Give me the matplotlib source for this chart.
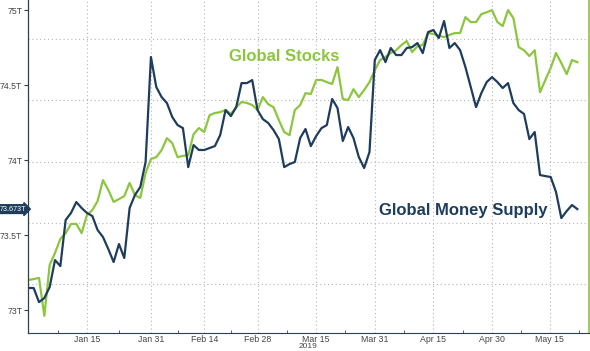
import numpy as np
import matplotlib.pyplot as plt
import matplotlib.transforms as mtransforms
from matplotlib import font_manager

plt.rcParams['font.family'] = ['Liberation Sans', 'DejaVu Sans']
names = {f.name for f in font_manager.fontManager.ttflist}
narrow = 'Liberation Sans Narrow' if 'Liberation Sans Narrow' in names else 'Liberation Sans'

# global money supply, $T (left axis), one value per business day from Dec 31 2018
money_supply = [
    73.147, 73.147, 73.053, 73.080, 73.153, 73.333, 73.293, 73.600, 73.647, 73.720,
    73.680, 73.647, 73.627, 73.533, 73.487, 73.407, 73.320, 73.440, 73.347, 73.680,
    73.767, 73.820, 73.987, 74.687, 74.487, 74.420, 74.380, 74.287, 74.233, 74.213,
    73.953, 74.100, 74.067, 74.067, 74.080, 74.093, 74.167, 74.333, 74.293, 74.353,
    74.513, 74.513, 74.533, 74.333, 74.273, 74.247, 74.200, 74.140, 73.953, 73.973,
    73.987, 74.147, 74.207, 74.093, 74.160, 74.213, 74.233, 74.407, 74.347, 74.127,
    74.220, 74.147, 74.020, 73.947, 74.053, 74.667, 74.733, 74.653, 74.747, 74.700,
    74.700, 74.747, 74.753, 74.780, 74.713, 74.853, 74.867, 74.813, 74.927, 74.747,
    74.780, 74.733, 74.620, 74.487, 74.353, 74.447, 74.520, 74.553, 74.520, 74.480,
    74.513, 74.380, 74.333, 74.307, 74.140, 74.187, 73.900, 73.893, 73.887, 73.787,
    73.613, 73.660, 73.700, 73.673,
]

# global stocks (hidden right axis)
global_stocks = [
    76.14, 76.17, 76.21, 74.97, 76.63, 77.02, 77.48, 77.67, 77.97, 77.97,
    77.67, 78.26, 78.42, 78.72, 79.40, 79.08, 78.69, 78.78, 78.88, 79.31,
    78.91, 78.82, 79.63, 80.09, 80.15, 80.38, 80.77, 80.61, 80.15, 80.19,
    80.22, 80.90, 81.10, 80.97, 81.52, 81.59, 81.62, 81.69, 81.56, 81.78,
    81.95, 81.92, 81.85, 81.69, 82.11, 81.88, 81.78, 81.36, 80.97, 80.87,
    81.69, 81.85, 82.24, 82.21, 82.67, 82.67, 82.60, 82.54, 83.09, 82.05,
    82.01, 82.37, 82.11, 82.34, 82.60, 82.99, 83.32, 83.42, 83.55, 83.64,
    83.81, 83.94, 83.58, 83.77, 83.81, 84.20, 84.17, 84.11, 84.07, 84.14,
    84.20, 84.20, 84.72, 84.56, 84.56, 84.82, 84.88, 84.95, 84.56, 84.43,
    84.95, 84.69, 83.74, 83.64, 83.45, 83.64, 82.27, 82.67, 83.06, 83.55,
    83.22, 82.86, 83.32, 83.25,
]

tick_labels = ['Jan 15', 'Jan 31', 'Feb 14', 'Feb 28', 'Mar 15', 'Mar 31', 'Apr 15', 'Apr 30', 'May 15']
tick_days = [11, 23, 33, 43, 54, 65, 76, 87, 97.8]
left_ticks = [73, 73.5, 74, 74.5, 75]
left_labels = ['73T', '73.5T', '74T', '74.5T', '75T']
right_grid = [76, 78, 80, 82, 84]

navy = '#1e3d5c'
green = '#8cc63f'
grid_kw = dict(color='#b4b4b4', linestyle=(0, (1, 2.5)), linewidth=0.8)

fig = plt.figure(figsize=(5.9, 3.51), dpi=100)
ax = fig.add_axes([0.0475, 0.0513, 0.95, 0.9487])
ax2 = ax.twinx()
ax.set_zorder(ax2.get_zorder() + 1)
ax.patch.set_visible(False)

x = np.arange(len(money_supply))
ax2.plot(x, global_stocks, color=green, lw=1.6)
ax.plot(x, money_supply, color=navy, lw=1.6)

ax.set_xlim(-0.06, 105.1)
ax.set_ylim(72.847, 75.067)
ax2.set_ylim(74.41, 85.28)

# x axis
ax.set_xticks(tick_days, tick_labels)
mids = [(a + b) / 2 for a, b in zip(tick_days[:-1], tick_days[1:])]
ax.set_xticks([tick_days[0] - 5.5] + mids + [tick_days[-1] + 5.5], minor=True)
ax.tick_params(axis='x', which='major', length=0, pad=1.5, labelsize=6.3, labelcolor='#444444')
ax.tick_params(axis='x', which='minor', direction='in', length=2, color='#444444')
ax.grid(axis='x', **grid_kw)
ax.set_xlabel('2019', fontsize=6, color='#444444', family=narrow)
ax.xaxis.set_label_coords(0.5, -0.03)

# left axis
ax.set_yticks(left_ticks, left_labels)
ax.tick_params(axis='y', direction='out', length=3, width=0.8, color='#2f3f50',
               labelsize=6.3, labelcolor='#444444', pad=1)
for lab in ax.get_xticklabels() + ax.get_yticklabels():
    lab.set_family(narrow)

# right axis only gives the horizontal grid
ax2.set_yticks(right_grid)
ax2.tick_params(axis='y', length=0, labelright=False)
ax2.grid(axis='y', **grid_kw)

for s in ['top', 'right']:
    ax.spines[s].set_visible(False)
for s in ['top', 'left', 'bottom']:
    ax2.spines[s].set_visible(False)
ax2.spines['right'].set_color(green)
ax2.spines['right'].set_linewidth(1.2)
ax.spines['left'].set_color('#2f3f50')
ax.spines['left'].set_linewidth(0.9)
ax.spines['left'].set_linestyle((0, (1.5, 1)))
ax.spines['bottom'].set_color('#2f3f50')
ax.spines['bottom'].set_linewidth(0.8)

# last value tag
trans = mtransforms.blended_transform_factory(ax.transAxes, ax.transData)
ax.text(-0.004, money_supply[-1], f'{money_supply[-1]:.3f}T', transform=trans,
        ha='right', va='center', fontsize=5.2, color='white', clip_on=False, family=narrow,
        bbox=dict(boxstyle='rarrow,pad=0.12', fc=navy, ec=navy))

ax.text(0.457, 0.829, 'Global Stocks', transform=ax.transAxes, ha='center', va='center',
        fontsize=12, fontweight='bold', color=green)
ax.text(0.777, 0.367, 'Global Money Supply', transform=ax.transAxes, ha='center', va='center',
        fontsize=12, fontweight='bold', color=navy)

plt.savefig('out.png', dpi=100)
